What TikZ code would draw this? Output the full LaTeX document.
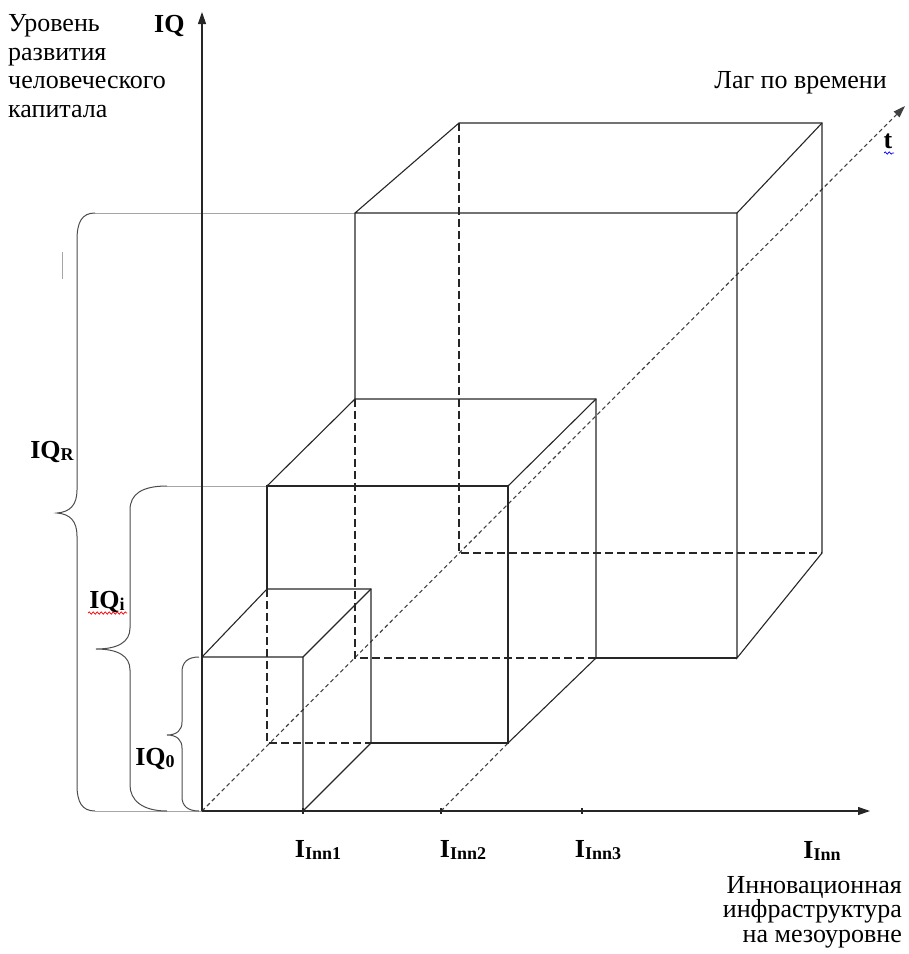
\documentclass[tikz,border=0pt]{standalone}
\usepackage{fontspec}
\setmainfont{Liberation Serif}
\usetikzlibrary{arrows.meta,decorations.pathmorphing}
\newcommand{\subtx}[1]{\raisebox{-0.22ex}{\fontsize{18}{18}\selectfont #1}}
\begin{document}
\begin{tikzpicture}[x=1pt,y=-1pt,
  edge/.style={line width=1.1pt, black!85},
  hid/.style={line width=1.1pt, black!85, dash pattern=on 8pt off 4pt},
  taxis/.style={line width=1.1pt, black!75, dash pattern=on 4pt off 3pt},
  axis/.style={line width=1.1pt, black!85, -{Triangle[length=12pt,width=8pt]}},
  brace/.style={line width=1pt, black!70},
  guide/.style={line width=0.9pt, black!35},
  lbl/.style={inner sep=0pt, font=\fontsize{26}{30}\selectfont},
  blbl/.style={inner sep=0pt, font=\fontsize{26}{30}\selectfont\bfseries},
  squig/.style={line width=0.7pt, decorate, decoration={snake, amplitude=1.2pt, segment length=4pt}}
]
\useasboundingbox (0,0) rectangle (909,954);

% ---- coordinates
\coordinate (O) at (202,811);
\coordinate (Ytop) at (202,12);
\coordinate (Xend) at (870,811);
\coordinate (Tend) at (905,106);
% small cube
\coordinate (s1) at (202,657); \coordinate (s2) at (303,657); \coordinate (s3) at (303,811);
\coordinate (sb1) at (267,589); \coordinate (sb2) at (371,589); \coordinate (sb3) at (371,743); \coordinate (sb4) at (267,743);
% medium cube
\coordinate (m1) at (267,486); \coordinate (m2) at (508,486); \coordinate (m3) at (508,743);
\coordinate (mb1) at (355,399); \coordinate (mb2) at (596,399); \coordinate (mb3) at (596,658); \coordinate (mb4) at (355,658);
% large cube
\coordinate (L1) at (355,213); \coordinate (L2) at (737,213); \coordinate (L3) at (737,658);
\coordinate (Lb1) at (459,123); \coordinate (Lb2) at (822,123); \coordinate (Lb3) at (822,553); \coordinate (Lb4) at (459,553);
% ticks
\coordinate (k2) at (441,811); \coordinate (k3) at (582,811);

% ---- guide lines (brace extensions)
\draw[guide] (95,213) -- (L1);
\draw[guide] (167,486) -- (m1);
\draw[guide] (95,811) -- (O);
\draw[guide] (62,252) -- (62,279);

% ---- braces
\draw[brace] (95,213) .. controls (82,213) and (77,222) .. (77,240) -- (77,490)
  .. controls (77,505) and (70,512) .. (57,513) .. controls (70,514) and (77,521) .. (77,536)
  -- (77,785) .. controls (77,802) and (82,811) .. (95,811);
\draw[brace] (167,486) .. controls (142,486) and (130,494) .. (130,510) -- (130,628)
  .. controls (130,642) and (118,649) .. (96,649) .. controls (118,649) and (130,656) .. (130,670)
  -- (130,785) .. controls (130,800) and (142,811) .. (167,811);
\draw[brace] (199,657) .. controls (188,657) and (182,662) .. (182,672) -- (182,722)
  .. controls (182,730) and (177,735) .. (167,735) .. controls (177,735) and (182,740) .. (182,748)
  -- (182,797) .. controls (182,806) and (188,811) .. (199,811);

% ---- t axis and projection
\draw[taxis, -{Triangle[length=12pt,width=8pt]}] (O) -- (Tend);
\draw[taxis] (k2) -- (m3);

% ---- large cube
\draw[hid] (Lb1) -- (Lb4) -- (Lb3);
\draw[hid] (mb1) -- (mb4) -- (mb3);
\draw[edge] (mb3) -- (L3);
\draw[edge] (mb1) -- (L1) -- (L2) -- (L3) -- (Lb3) -- (Lb2) -- (Lb1) -- (L1);
\draw[edge] (L2) -- (Lb2);

% ---- medium cube
\draw[hid] (sb1) -- (sb4) -- (sb3);
\draw[edge] (sb1) -- (m1) -- (m2) -- (m3) -- (sb3);
\draw[edge] (m1) -- (mb1) -- (mb2) -- (mb3) -- (m3);
\draw[edge] (m2) -- (mb2);

% ---- small cube
\draw[edge] (s1) -- (s2) -- (s3) -- (sb3) -- (sb2) -- (sb1) -- (s1);
\draw[edge] (s2) -- (sb2);

% ---- axes
\draw[axis] (O) -- (Ytop);
\draw[axis] (O) -- (Xend);
\draw[edge, line width=1.4pt] (k2) ++(0,-3) -- ++(0,6);
\draw[edge, line width=1.4pt] (k3) ++(0,-3) -- ++(0,6);
\draw[edge, line width=1.4pt] (s3) ++(0,-3) -- ++(0,6);

% ---- texts
\node[lbl, anchor=base west] (t1) at (8,31) {Уровень};
\node[lbl, anchor=base west] (t2) at (8,60) {развития};
\node[lbl, anchor=base west] (t3) at (8,88) {человеческого};
\node[lbl, anchor=base west] (t4) at (8,117) {капитала};
\node[blbl, anchor=base west] (iq) at (154,32) {IQ};
\node[lbl, anchor=base east] (lag) at (887,88) {Лаг по времени};
\node[blbl, anchor=base] (tl) at (888,148) {t};
\draw[squig, blue] (884,153) -- (894,153);

\node[blbl, anchor=base] (iqr) at (52,458) {IQ\subtx{R}};
\node[blbl, anchor=base] (iqi) at (107,608) {IQ\subtx{i}};
\draw[squig, red] (88,613) -- (127,613);
\node[blbl, anchor=base] (iq0) at (155,765) {IQ\subtx{0}};

\node[blbl, anchor=base] (i1) at (318,857) {I\subtx{Inn1}};
\node[blbl, anchor=base] (i2) at (463,857) {I\subtx{Inn2}};
\node[blbl, anchor=base] (i3) at (598,857) {I\subtx{Inn3}};
\node[blbl, anchor=base] (iinn) at (822,858) {I\subtx{Inn}};
\node[lbl, anchor=base east] (r1) at (902,893) {Инновационная};
\node[lbl, anchor=base east] (r2) at (902,917) {инфраструктура};
\node[lbl, anchor=base east] (r3) at (902,942) {на мезоуровне};
\end{tikzpicture}
\end{document}
